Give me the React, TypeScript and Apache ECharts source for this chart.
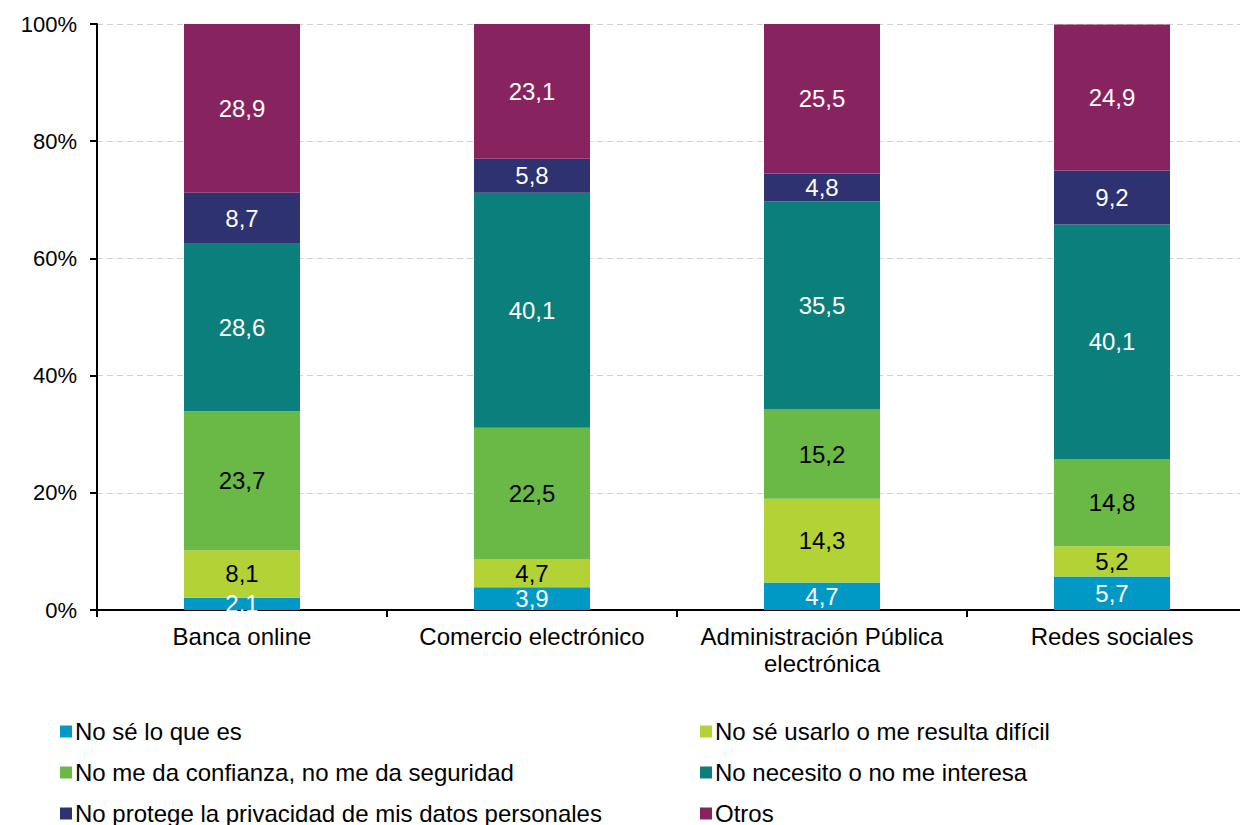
import React, { useEffect, useRef } from "react";
import * as echarts from "echarts";

const categories = ["Banca online", "Comercio electrónico", "Administración Pública\nelectrónica", "Redes sociales"];
const seriesNames = [
  "No sé lo que es",
  "No sé usarlo o me resulta difícil",
  "No me da confianza, no me da seguridad",
  "No necesito o no me interesa",
  "No protege la privacidad de mis datos personales",
  "Otros",
];
const noSeQueEs = [2.1, 3.9, 4.7, 5.7];
const noSeUsarlo = [8.1, 4.7, 14.3, 5.2];
const noConfianza = [23.7, 22.5, 15.2, 14.8];
const noNecesito = [28.6, 40.1, 35.5, 40.1];
const noPrivacidad = [8.7, 5.8, 4.8, 9.2];
const otros = [28.9, 23.1, 25.5, 24.9];
const yTicks = [0, 20, 40, 60, 80, 100];

const colors = ["#0099C6", "#B2D235", "#6AB845", "#0A7F7B", "#2E3270", "#87245F"];
const labelColors = ["#ffffff", "#000000", "#000000", "#ffffff", "#ffffff", "#ffffff"];
const FONT = "Liberation Sans, Arial, sans-serif";

export default function App() {
  const ref = useRef<HTMLDivElement>(null);
  useEffect(() => {
    const chart = echarts.init(ref.current!, null, { renderer: "svg" });
    const data = [noSeQueEs, noSeUsarlo, noConfianza, noNecesito, noPrivacidad, otros];
    const legendCommon = {
      orient: "vertical",
      top: 714,
      height: 140,
      itemWidth: 12,
      itemHeight: 12,
      itemGap: 16,
      icon: "rect",
      textStyle: { fontSize: 24, color: "#000", fontFamily: FONT, lineHeight: 25, padding: [0, 0, 0, -2] },
    };
    chart.setOption({
      animation: false,
      textStyle: { fontFamily: FONT },
      grid: { left: 97, right: 0, top: 24, bottom: 215 },
      legend: [
        { ...legendCommon, left: 55, data: [seriesNames[0], seriesNames[2], seriesNames[4]] },
        { ...legendCommon, left: 695, data: [seriesNames[1], seriesNames[3], seriesNames[5]] },
      ],
      xAxis: {
        type: "category",
        data: categories,
        axisLine: { lineStyle: { color: "#000", width: 2 } },
        axisTick: { show: true, length: 7, lineStyle: { color: "#000", width: 2 } },
        axisLabel: { interval: 0, fontSize: 24, color: "#000", margin: 13, lineHeight: 27, fontFamily: FONT },
      },
      yAxis: {
        type: "value",
        min: 0,
        max: 100,
        interval: 20,
        axisLine: { show: true, lineStyle: { color: "#000", width: 2 } },
        axisTick: { show: true, length: 7, lineStyle: { color: "#000", width: 2 } },
        axisLabel: {
          fontSize: 22,
          color: "#000",
          margin: 20,
          fontFamily: FONT,
          formatter: (v: number) => (yTicks.includes(v) ? v + "%" : ""),
        },
        splitLine: { show: true, lineStyle: { color: "#D0D0D0", type: [6, 4], width: 1 } },
      },
      series: data.map((vals, i) => ({
        name: seriesNames[i],
        type: "bar",
        stack: "total",
        barWidth: 116,
        data: vals,
        itemStyle: { color: colors[i] },
        label: {
          show: true,
          position: "inside",
          fontSize: 24,
          color: labelColors[i],
          fontFamily: FONT,
          formatter: (p: any) => String(p.value).replace(".", ","),
        },
      })),
    });
    return () => chart.dispose();
  }, []);
  return (
    <div style={{ position: "absolute", left: 0, top: 0, width: 1240, height: 825, overflow: "hidden", background: "#fff" }}>
      <div ref={ref} style={{ position: "absolute", left: 0, top: 0, width: 1257, height: 825 }} />
    </div>
  );
}
